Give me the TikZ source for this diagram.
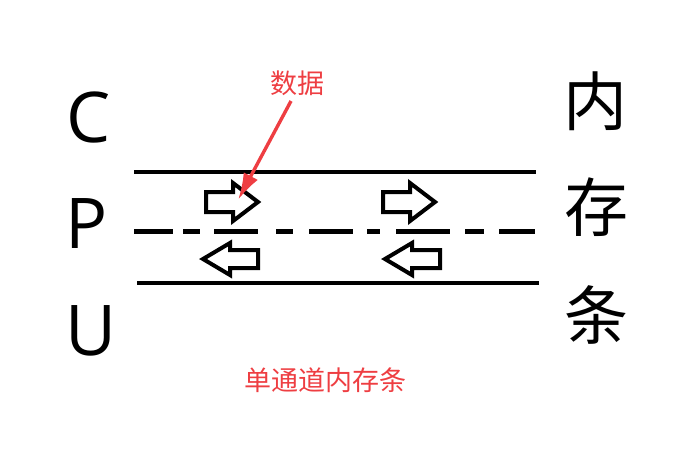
\documentclass[tikz,border=0pt]{standalone}
\usepackage{fontspec}
\setmainfont{Open Sans}
\newfontfamily\cjk{Noto Sans CJK SC}
\usepackage{xcolor}
\usepackage{tikz}
\usetikzlibrary{arrows.meta}
\definecolor{markred}{RGB}{238,62,66}
\tikzset{
  lane/.style={line width=4.2pt},
  hollow/.style={line width=4pt, line join=miter},
  rightarr/.pic={\draw[hollow] (0,0) -- (-25,-19) -- (-25,-10) -- (-52,-10) -- (-52,10) -- (-25,10) -- (-25,19) -- cycle;},
  leftarr/.pic={\draw[hollow] (0,0) -- (27,-16) -- (27,-9) -- (55,-9) -- (55,9) -- (27,9) -- (27,16) -- cycle;}
}

\begin{document}
\begin{tikzpicture}[x=1pt,y=-1pt]
\useasboundingbox (0,0) rectangle (690,452);
% CPU side
\node (c) at (89,117) {\fontsize{70}{70}\selectfont C};
\node (p) at (87,224) {\fontsize{70}{70}\selectfont P};
\node (u) at (91,331) {\fontsize{70}{70}\selectfont U};
% memory side
\node (nei) at (595,101) {\cjk\fontsize{64}{64}\selectfont 内};
\node (cun) at (596,207) {\cjk\fontsize{64}{64}\selectfont 存};
\node (tiao) at (596,315) {\cjk\fontsize{64}{64}\selectfont 条};
% lanes
\draw [lane] (134,172) -- (536,172);
\draw [lane] (137,283) -- (539,283);
\foreach \a/\b in {134/173, 183/200, 214/258, 276/293, 309/353, 367/380, 396/450, 465/484, 499/535}
  \draw [lane] (\a,231.5) -- (\b,231.5);
% data flow
\pic at (258,202) {rightarr};
\pic at (435,202) {rightarr};
\pic at (203,259) {leftarr};
\pic at (385,259) {leftarr};
% labels
\node [text=markred] (data) at (297,83) {\cjk\fontsize{27}{27}\selectfont 数据};
\coordinate (datatip) at (238,200);
\draw [markred, line width=3.4pt, -{Latex[length=27pt,width=16pt]}] (data.south) ++(-6,2) -- (datatip);
\node [text=markred] (title) at (325,380) {\cjk\fontsize{27}{27}\selectfont 单通道内存条};
\end{tikzpicture}
\end{document}
